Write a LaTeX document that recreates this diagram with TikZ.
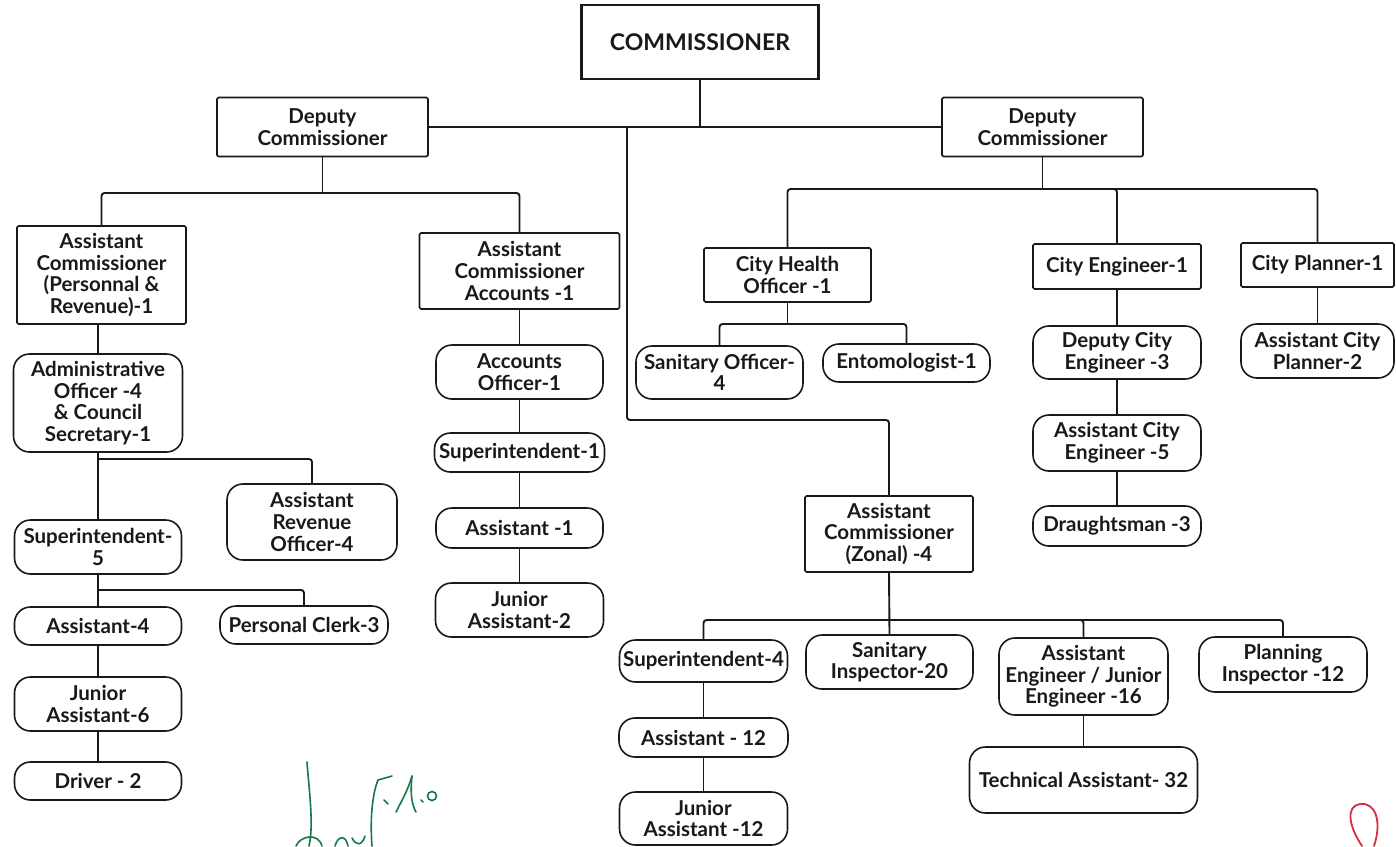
\documentclass[tikz,border=0pt]{standalone}
\usepackage{fontspec}
\setmainfont{Lato}
\definecolor{ink}{RGB}{25,25,25}
\definecolor{signgreen}{RGB}{20,120,75}
\definecolor{markred}{RGB}{215,45,70}
\tikzset{
  lbl/.style={font=\fontsize{20.5}{21.7}\selectfont\bfseries, align=center, inner sep=0pt, text=ink},
  sq/.style={lbl, draw=ink, line width=1.6pt, rounded corners=1.5pt},
  rnd/.style={lbl, draw=ink, line width=1.6pt, rounded corners=16pt},
  topbox/.style={draw=ink, line width=2.8pt, inner sep=0pt, font=\fontsize{23}{25}\selectfont\bfseries, text=ink},
  link/.style={draw=ink, line width=1.9pt, rounded corners=3pt},
  sigline/.style={draw=signgreen, line width=1.6pt, line cap=round},
  redloop/.style={draw=markred, line width=1.8pt, line cap=round}
}
\begin{document}
\begin{tikzpicture}[x=1pt, y=-1pt]
\useasboundingbox[fill=white] (0,0) rectangle (1396,846);

% ---------- top ----------
\node[topbox, minimum width=237pt, minimum height=74pt] (comm) at (700,42) {COMMISSIONER};
\node[sq, minimum width=211pt, minimum height=59pt] (dcl) at (322.5,127) {Deputy\\Commissioner};
\node[sq, minimum width=201pt, minimum height=59pt] (dcr) at (1042.5,127) {Deputy\\Commissioner};

% ---------- left branch ----------
\node[sq, minimum width=169pt, minimum height=98pt] (acpr) at (101.5,275) {Assistant\\Commissioner\\(Personnal \&\\Revenue)-1};
\node[sq, minimum width=200pt, minimum height=76pt] (aca) at (519.5,271) {Assistant\\Commissioner\\Accounts -1};

\node[rnd, minimum width=169pt, minimum height=98pt] (adm) at (98,403) {Administrative\\Officer -4\\\& Council\\Secretary-1};
\node[rnd, minimum width=170pt, minimum height=76pt] (aro) at (312,522) {Assistant\\Revenue\\Officer-4};
\node[rnd, minimum width=167pt, minimum height=54pt] (sup5) at (98,547) {Superintendent-\\5};
\node[rnd, minimum width=167pt, minimum height=38pt] (as4) at (98,626) {Assistant-4};
\node[rnd, minimum width=168pt, minimum height=38pt] (pc3) at (304,625) {Personal Clerk-3};
\node[rnd, minimum width=167pt, minimum height=54pt] (ja6) at (98,704) {Junior\\Assistant-6};
\node[rnd, minimum width=167pt, minimum height=38pt] (drv) at (98,781) {Driver - 2};

\node[rnd, minimum width=167pt, minimum height=54pt] (ao1) at (519.5,372) {Accounts\\Officer-1};
\node[rnd, minimum width=170pt, minimum height=39pt] (su1) at (519.5,452.5) {Superintendent-1};
\node[rnd, minimum width=167pt, minimum height=40pt] (as1) at (519.5,528) {Assistant -1};
\node[rnd, minimum width=168pt, minimum height=54pt] (ja2) at (519.5,610) {Junior\\Assistant-2};

% ---------- right branch ----------
\node[sq, minimum width=167pt, minimum height=54pt] (cho) at (787.5,275) {City Health\\Officer -1};
\node[rnd, minimum width=167pt, minimum height=53pt] (so4) at (719.5,372.5) {Sanitary Officer-\\4};
\node[rnd, minimum width=167pt, minimum height=38pt] (ent) at (906.5,363) {Entomologist-1};

\node[sq, minimum width=168pt, minimum height=45pt] (ce) at (1117,266.5) {City Engineer-1};
\node[rnd, minimum width=168pt, minimum height=53pt] (dce) at (1117,352.5) {Deputy City\\Engineer -3};
\node[rnd, minimum width=168pt, minimum height=56pt] (ace) at (1117,443) {Assistant City\\Engineer -5};
\node[rnd, minimum width=168pt, minimum height=40pt] (dra) at (1117,526) {Draughtsman -3};

\node[sq, minimum width=153pt, minimum height=44pt] (cp) at (1317.5,265) {City Planner-1};
\node[rnd, minimum width=153pt, minimum height=54pt] (acp) at (1317.5,351) {Assistant City\\Planner-2};

% ---------- zonal ----------
\node[sq, minimum width=168pt, minimum height=76pt] (acz) at (889,534) {Assistant\\Commissioner\\(Zonal) -4};
\node[rnd, minimum width=168pt, minimum height=42pt] (s4) at (703.5,661) {Superintendent-4};
\node[rnd, minimum width=167pt, minimum height=54pt] (si) at (889.5,662) {Sanitary\\Inspector-20};
\node[rnd, minimum width=169pt, minimum height=77pt] (aeje) at (1083.5,676.5) {Assistant\\Engineer / Junior\\Engineer -16};
\node[rnd, minimum width=168pt, minimum height=55pt] (pi) at (1283,664.5) {Planning\\Inspector -12};
\node[rnd, minimum width=169pt, minimum height=39pt] (a12) at (703.5,737.5) {Assistant - 12};
\node[rnd, minimum width=168pt, minimum height=53pt] (ja12) at (703.5,818.5) {Junior\\Assistant -12};
\node[rnd, minimum width=228pt, minimum height=66pt] (ta) at (1083.5,780) {Technical Assistant- 32};

% ---------- junction points ----------
\coordinate (jt) at (700,127);
\coordinate (jz) at (627,127);
\coordinate (bend) at (627,420);
\coordinate (j1) at (322.5,193);
\coordinate (j2) at (98,459);
\coordinate (j3) at (98,590);
\coordinate (j4) at (1042.5,189);
\coordinate (j5) at (787.5,324);
\coordinate (j6) at (889,620);

% ---------- connectors ----------
\draw[link] (comm.south) -- (jt);
\draw[link] (dcl.east) -- (dcr.west);
\draw[link] (jz) -- (bend) -| (acz.north);

\draw[link] (dcl.south) -- (j1);
\draw[link] (acpr.north) |- (j1) -| (aca.north);
\draw[link] (acpr.south -| adm.north) -- (adm.north);
\draw[link] (adm.south) -- (sup5.north);
\draw[link] (j2) -| (aro.north);
\draw[link] (sup5.south) -- (as4.north);
\draw[link] (j3) -| (pc3.north);
\draw[link] (as4.south) -- (ja6.north);
\draw[link] (ja6.south) -- (drv.north);

\draw[link] (aca.south) -- (ao1.north);
\draw[link] (ao1.south) -- (su1.north);
\draw[link] (su1.south) -- (as1.north);
\draw[link] (as1.south) -- (ja2.north);

\draw[link] (dcr.south) -- (j4);
\draw[link] (cho.north) |- (j4) -| (cp.north);
\draw[link] (j4) -| (ce.north);
\draw[link] (cho.south) -- (j5);
\draw[link] (so4.north) |- (j5) -| (ent.north);
\draw[link] (ce.south) -- (dce.north);
\draw[link] (dce.south) -- (ace.north);
\draw[link] (ace.south) -- (dra.north);
\draw[link] (cp.south) -- (acp.north);

\draw[link] (acz.south) -- (si.north);
\draw[link] (s4.north) |- (j6) -| (pi.north);
\draw[link] (j6) -| (aeje.north);
\draw[link] (s4.south) -- (a12.north);
\draw[link] (a12.south) -- (ja12.north);
\draw[link] (aeje.south) -- (ta.north);

% ---------- handwritten marks ----------
\draw[sigline] (307,762) .. controls (309,790) and (314,825) .. (309,846);
\draw[sigline] (296,846) .. controls (300,836) and (318,832) .. (322,846);
\draw[sigline] (335,846) .. controls (338,835) and (346,835) .. (348,846);
\draw[sigline] (352,838) .. controls (356,846) and (362,846) .. (365,836);
\draw[sigline] (372,846) .. controls (370,820) and (372,795) .. (378,780);
\draw[sigline] (378,780) -- (392,776);
\draw[sigline] (384,800) -- (388,804);
\draw[sigline] (396,812) .. controls (402,800) and (408,790) .. (412,776);
\draw[sigline] (412,776) .. controls (410,795) and (412,805) .. (416,812);
\draw[sigline] (421,800) -- (423,802);
\draw[sigline] (432,796) circle (4.5);
\draw[redloop] (1362,846) .. controls (1348,825) and (1346,806) .. (1360,804)
  .. controls (1376,802) and (1382,822) .. (1374,846);
\end{tikzpicture}
\end{document}
